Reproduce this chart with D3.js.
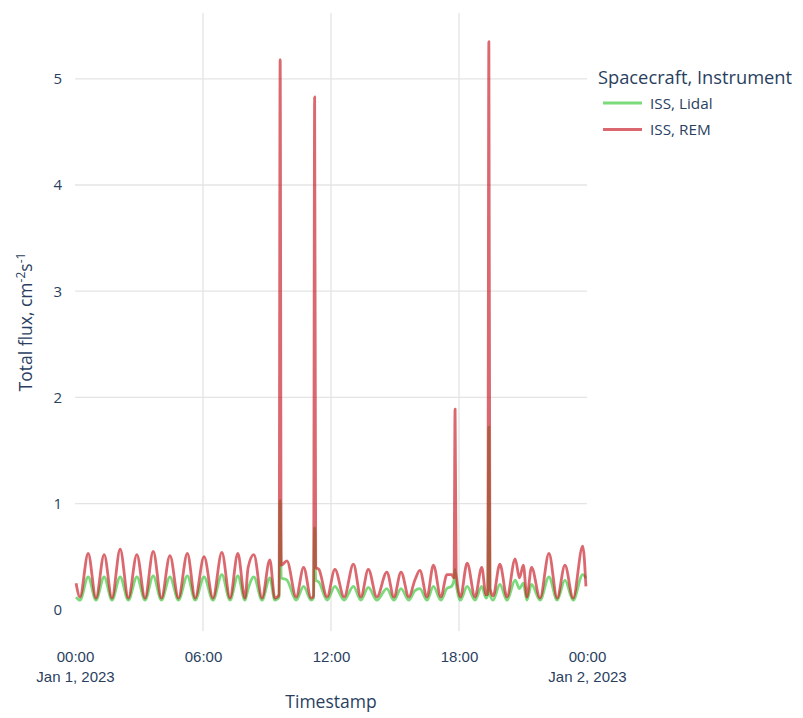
<!DOCTYPE html>
<html>
<head>
<meta charset="utf-8">
<script src="https://cdn.jsdelivr.net/npm/d3@7"></script>
<style>
  html, body { margin: 0; padding: 0; background: #fff; }
  svg { display: block; font-family: "Open Sans", "Noto Sans", sans-serif; }
</style>
</head>
<body>
<svg id="chart" width="803" height="718"></svg>
<script>
// Sample times on Jan 1, 2023 (HH:MM)
const timestamps = [
  "00:03","00:14","00:37","00:59","01:22","01:44","02:07","02:30","02:54","03:17",
  "03:40","04:03","04:27","04:51","05:16","05:38","06:03","06:28","06:53","07:16",
  "07:38","07:58","08:07","08:23","08:46","09:08","09:22","09:34","09:37","09:40",
  "09:56","10:22","10:43","11:04","11:11","11:14","11:17","11:26","11:49","12:11",
  "12:37","13:03","13:24","13:45","14:09","14:37","14:57","15:17","15:39","15:56",
  "16:10","16:30","16:48","17:09","17:26","17:39","17:46","17:49","17:52","18:04",
  "18:23","18:45","19:04","19:16","19:21","19:24","19:27","19:36","19:55","20:15",
  "20:38","20:50","21:01","21:11","21:24","21:48","22:13","22:36","22:58","23:21",
  "23:48","23:57"
];

// Total flux, ISS / Lidal
const lidalFlux = [
  0.12,0.09,0.31,0.09,0.31,0.09,0.31,0.09,0.31,0.09,
  0.32,0.09,0.31,0.09,0.32,0.09,0.31,0.09,0.33,0.09,
  0.32,0.09,0.20,0.31,0.09,0.30,0.09,0.12,1.03,0.30,
  0.28,0.09,0.22,0.09,0.11,0.77,0.28,0.26,0.09,0.22,
  0.09,0.22,0.09,0.21,0.09,0.20,0.09,0.20,0.09,0.18,
  0.20,0.09,0.22,0.09,0.20,0.22,0.28,0.38,0.25,0.09,
  0.22,0.09,0.22,0.11,0.14,1.72,0.15,0.09,0.24,0.09,
  0.28,0.20,0.25,0.09,0.24,0.09,0.31,0.09,0.28,0.09,
  0.33,0.30
];

// Total flux, ISS / REM
const remFlux = [
  0.25,0.12,0.53,0.11,0.52,0.11,0.57,0.11,0.52,0.11,
  0.55,0.11,0.51,0.11,0.53,0.11,0.50,0.11,0.54,0.11,
  0.53,0.11,0.40,0.52,0.11,0.47,0.11,0.14,5.18,0.42,
  0.46,0.12,0.40,0.11,0.13,4.83,0.40,0.38,0.12,0.38,
  0.12,0.43,0.12,0.38,0.12,0.355,0.12,0.355,0.12,0.28,
  0.37,0.12,0.42,0.12,0.33,0.33,0.30,1.89,0.35,0.12,
  0.44,0.12,0.40,0.14,0.15,5.35,0.20,0.13,0.43,0.12,
  0.48,0.30,0.42,0.12,0.40,0.11,0.53,0.11,0.42,0.11,
  0.60,0.22
];

const xTicks = ["2023-01-01T00:00", "2023-01-01T06:00", "2023-01-01T12:00", "2023-01-01T18:00", "2023-01-02T00:00"];
const yTicks = [0, 1, 2, 3, 4, 5];

const seriesNames = ["ISS, Lidal", "ISS, REM"];
const seriesColors = ["rgb(60,200,60)", "rgb(200,32,42)"];

const parse = d3.timeParse("%Y-%m-%dT%H:%M");
const svg = d3.select("#chart");
const plotLeft = 75, plotRight = 587, plotTop = 13, plotBottom = 631;
const textColor = "#2a3f5f";

const x = d3.scaleTime()
  .domain([parse(xTicks[0]), parse(xTicks[xTicks.length - 1])])
  .range([plotLeft, plotRight]);
const y = d3.scaleLinear().domain([-0.2, 5.62]).range([plotBottom, plotTop]);

// grid
const grid = svg.append("g");
grid.selectAll("line.h").data(yTicks.filter(v => v > 0)).join("line")
  .attr("x1", plotLeft).attr("x2", plotRight)
  .attr("y1", d => y(d)).attr("y2", d => y(d))
  .attr("stroke", "#e4e4e4").attr("stroke-width", 1.3);
grid.selectAll("line.v").data(xTicks.slice(1, -1).map(parse)).join("line")
  .attr("x1", d => x(d)).attr("x2", d => x(d))
  .attr("y1", plotTop).attr("y2", plotBottom)
  .attr("stroke", "#e4e4e4").attr("stroke-width", 1.3);

// series
const dates = timestamps.map(t => parse("2023-01-01T" + t));
const line = d3.line()
  .x(d => x(d[0]))
  .y(d => y(d[1]))
  .curve(d3.curveMonotoneX);
[lidalFlux, remFlux].forEach((vals, i) => {
  svg.append("path")
    .datum(dates.map((dt, k) => [dt, vals[k]]))
    .attr("d", line)
    .attr("fill", "none")
    .attr("stroke", seriesColors[i])
    .attr("stroke-opacity", 0.68)
    .attr("stroke-width", 2.8)
    .attr("stroke-linejoin", "round");
});

// y axis
const yAxis = svg.append("g")
  .attr("transform", `translate(${plotLeft},0)`)
  .call(d3.axisLeft(y).tickValues(yTicks).tickSize(0).tickPadding(13).tickFormat(d3.format("d")));
yAxis.select(".domain").remove();
yAxis.selectAll("text").attr("fill", textColor).style("font-size", "15px")
  .style("font-family", '"Open Sans", sans-serif');

// x axis with two-line labels
const xAxis = svg.append("g")
  .attr("transform", `translate(0,${plotBottom})`)
  .call(d3.axisBottom(x).tickValues(xTicks.map(parse)).tickSize(0).tickFormat(""));
xAxis.select(".domain").remove();
xAxis.selectAll(".tick").each(function(d, i) {
  const t = d3.select(this).append("text")
    .attr("fill", textColor).attr("text-anchor", "middle")
    .style("font-size", "15px");
  t.append("tspan").attr("x", 0).attr("y", 31).text(d3.timeFormat("%H:%M")(d));
  if (i === 0 || i === xTicks.length - 1) {
    t.append("tspan").attr("x", 0).attr("y", 51).text(d3.timeFormat("%b %-d, %Y")(d));
  }
});

// axis titles
svg.append("text")
  .attr("x", (plotLeft + plotRight) / 2).attr("y", 708)
  .attr("text-anchor", "middle").attr("fill", textColor)
  .style("font-size", "17.5px").text("Timestamp");

const yt = svg.append("text")
  .attr("transform", `translate(32,${(plotTop + plotBottom) / 2}) rotate(-90)`)
  .attr("text-anchor", "middle").attr("fill", textColor)
  .style("font-size", "17.5px");
yt.append("tspan").text("Total flux, cm");
yt.append("tspan").attr("dy", -7).style("font-size", "12px").text("-2");
yt.append("tspan").attr("dy", 7).text("s");
yt.append("tspan").attr("dy", -7).style("font-size", "12px").text("-1");

// legend
const legend = svg.append("g");
legend.append("text").attr("x", 598).attr("y", 84)
  .attr("fill", textColor).style("font-size", "18.3px").text("Spacecraft, Instrument");
seriesNames.forEach((name, i) => {
  const yy = 103 + i * 26.5;
  legend.append("line").attr("x1", 603).attr("x2", 642).attr("y1", yy).attr("y2", yy)
    .attr("stroke", seriesColors[i]).attr("stroke-opacity", 0.68).attr("stroke-width", 2.8);
  legend.append("text").attr("x", 650).attr("y", yy + 5.5)
    .attr("fill", textColor).style("font-size", "15.3px").text(name);
});
</script>
</body>
</html>
